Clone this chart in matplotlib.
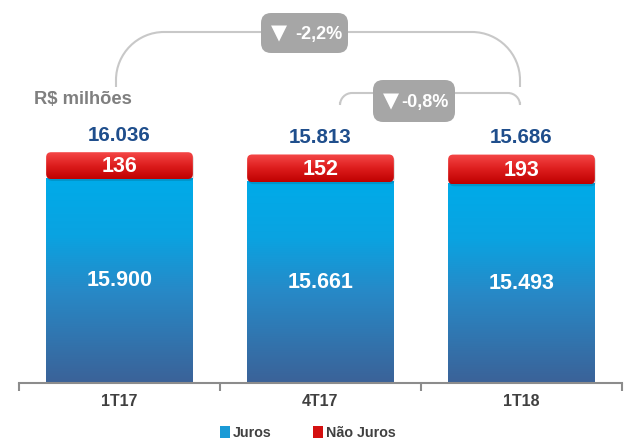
import matplotlib.pyplot as plt
import numpy as np
from matplotlib.colors import LinearSegmentedColormap
from matplotlib.patches import FancyBboxPatch, Rectangle, Patch
from matplotlib.path import Path
from matplotlib.patches import PathPatch

plt.rcParams['font.family'] = ['Liberation Sans', 'DejaVu Sans']

categories = ['1T17', '4T17', '1T18']
juros = [15900, 15661, 15493]
nao_juros = [136, 152, 193]
totals = ['16.036', '15.813', '15.686']
juros_labels = ['15.900', '15.661', '15.493']
nao_juros_labels = ['136', '152', '193']
var_total = '-2,2%'
var_quarter = '-0,8%'

W, H = 628, 441
fig = plt.figure(figsize=(W / 100, H / 100), dpi=100)
ax = fig.add_axes([19 / W, (H - 383) / H, 603 / W, 383 / H])
ymax = 383 / 205 * 15900
ax.set_xlim(-0.5, 2.5)
ax.set_ylim(0, ymax)
for s in ['top', 'right', 'left']:
    ax.spines[s].set_visible(False)
ax.spines['bottom'].set_color('#8c8c8c')
ax.spines['bottom'].set_linewidth(1.5)
ax.set_yticks([])
ax.set_xticks([-0.5, 0.5, 1.5, 2.5])
ax.set_xticklabels([])
ax.tick_params(axis='x', length=6, width=1.5, color='#8c8c8c', direction='out')
for i, c in enumerate(categories):
    ax.text(i, -19 * ymax / 383, c, ha='center', va='center', fontsize=11.5,
            fontweight='bold', color='#404040')

blue_cmap = LinearSegmentedColormap.from_list(
    'blue', [(0, '#3b6298'), (0.45, '#2789c7'), (0.72, '#0aa3e1'), (1, '#00abe9')])
red_cmap = LinearSegmentedColormap.from_list(
    'red', [(0, '#bf0000'), (0.5, '#dd1d1d'), (1, '#f54848')])
grad = np.linspace(0, 1, 256).reshape(-1, 1)

width = 0.73
px_y = ymax / 383          # data units per pixel (y)
px_x = 3 / 603             # data units per pixel (x)
for i in range(len(categories)):
    x0 = i - width / 2
    b = juros[i]
    rect = Rectangle((x0, 0), width, b, facecolor='none', edgecolor='none')
    ax.add_patch(rect)
    im = ax.imshow(grad, cmap=blue_cmap, extent=(x0, x0 + width, 0, b),
                   origin='lower', aspect='auto', zorder=2)
    im.set_clip_path(rect)
    # the red segment is drawn enlarged so it stays readable
    rh = (20 + nao_juros[i] * 0.05) * px_y
    y0 = b - 1 * px_y
    shadow = FancyBboxPatch((x0 + px_x, y0 - 2 * px_y), width, rh,
                            boxstyle='round,pad=0,rounding_size=0.025',
                            mutation_aspect=px_y / px_x, facecolor='#000000',
                            alpha=0.12, edgecolor='none', zorder=3)
    ax.add_patch(shadow)
    rbox = FancyBboxPatch((x0, y0), width, rh,
                          boxstyle='round,pad=0,rounding_size=0.025',
                          mutation_aspect=px_y / px_x, facecolor='none',
                          edgecolor='none', zorder=4)
    ax.add_patch(rbox)
    im2 = ax.imshow(grad, cmap=red_cmap, extent=(x0, x0 + width, y0, y0 + rh),
                    origin='lower', aspect='auto', zorder=4)
    im2.set_clip_path(rbox)
    ax.text(i, y0 + rh / 2 - 1 * px_y, nao_juros_labels[i], ha='center', va='center',
            fontsize=15.5, fontweight='bold', color='white', zorder=5)
    ax.text(i, b / 2, juros_labels[i], ha='center', va='center',
            fontsize=15.5, fontweight='bold', color='white', zorder=5)
    ax.text(i, y0 + rh + 17 * px_y, totals[i], ha='center', va='center',
            fontsize=14.8, fontweight='bold', color='#1f4e8c', zorder=5)


def fx(x):
    return x / W


def fy(y):
    return 1 - y / H


def bracket(xl, xr, ytop, yend, r):
    k = 0.55
    verts = [(xl, yend), (xl, ytop + r),
             (xl, ytop + r - k * r), (xl + r - k * r, ytop), (xl + r, ytop),
             (xr - r, ytop),
             (xr - r + k * r, ytop), (xr, ytop + r - k * r), (xr, ytop + r),
             (xr, yend)]
    codes = [Path.MOVETO, Path.LINETO, Path.CURVE4, Path.CURVE4, Path.CURVE4,
             Path.LINETO, Path.CURVE4, Path.CURVE4, Path.CURVE4, Path.LINETO]
    verts = [(fx(a), fy(b)) for a, b in verts]
    fig.patches.append(PathPatch(Path(verts, codes), transform=fig.transFigure,
                                 facecolor='none', edgecolor='#c8c8c8', lw=1.5))


def badge(cx, cy, w, h, txt):
    fig.patches.append(FancyBboxPatch((fx(cx - w / 2), fy(cy + h / 2)), w / W, h / H,
                                      boxstyle='round,pad=0,rounding_size=0.016',
                                      mutation_aspect=W / H,
                                      transform=fig.transFigure,
                                      facecolor='#a6a6a6', edgecolor='none'))
    fig.text(fx(cx - w / 2 + 10), fy(cy), '▼', ha='left', va='center', fontsize=15,
             color='white', family=['DejaVu Sans'])
    fig.text(fx(cx + w / 2 - 6), fy(cy + 1), txt, ha='right', va='center', fontsize=13,
             fontweight='bold', color='white')


bracket(116, 520, 32, 87, 48)
bracket(340, 520, 93, 102, 12)
badge(304.5, 33, 87, 40, var_total)
badge(414, 101, 82, 42, var_quarter)

fig.text(fx(34), fy(99), 'R$ milhões', ha='left', va='center', fontsize=13.2,
         fontweight='bold', color='#7f7f7f')

handles = [Patch(facecolor='#1a9ad6', edgecolor='none'),
           Patch(facecolor='#d41010', edgecolor='none')]
fig.legend(handles, ['Juros', 'Não Juros'], loc='center', ncol=2,
           bbox_to_anchor=(fx(308), fy(433)), frameon=False, handlelength=0.7,
           handleheight=0.9, handletextpad=0.2, columnspacing=2.9,
           prop={'size': 10.3, 'weight': 'bold'}, labelcolor='#404040')

fig.savefig('out.png', dpi=100)
